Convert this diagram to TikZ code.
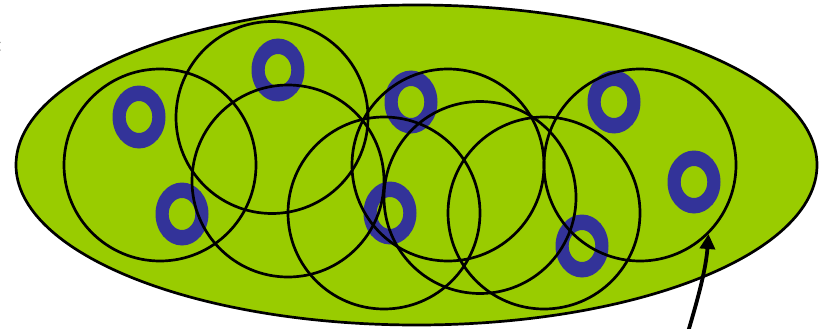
\documentclass[tikz,border=0pt]{standalone}
\usetikzlibrary{arrows.meta}
\definecolor{cellgreen}{HTML}{99CC00}
\definecolor{ringblue}{HTML}{333399}
\tikzset{
  cover/.style={draw=black, line width=2.7pt, circle, minimum size=192pt, inner sep=0pt},
  ring/.style={fill=ringblue, even odd rule},
  pointer/.style={line width=3.8pt, -{Triangle[length=15pt,width=15pt]}}
}
\begin{document}
\begin{tikzpicture}[x=1pt,y=-1pt]
\useasboundingbox (0,0) rectangle (827,329);
% big region
\filldraw[fill=cellgreen, draw=black, line width=2.7pt] (416.5,165) ellipse (400.5pt and 160pt);
% rings
\foreach \p/\q [count=\i] in {139/117, 278/70, 182/214, 411/102, 390/213, 614/102, 582/246, 694/182}{
  \coordinate (r\i) at (\p,\q);
  \fill[ring] (r\i) ellipse (26.5pt and 31.5pt) (r\i) ellipse (13.3pt and 16pt);
}
% covering circles
\node[cover] (A) at (160,165) {};
\node[cover] (B) at (272,117.5) {};
\node[cover] (C) at (288,181) {};
\node[cover] (D) at (384,213) {};
\node[cover] (E) at (448,165) {};
\node[cover] (F) at (480,197.5) {};
\node[cover] (G) at (544,213) {};
\node[cover] (H) at (640,165) {};
% stray colon at the left edge
\node[anchor=east, inner sep=0pt, font=\fontsize{22}{24}\selectfont] (colon) at (2.5,47) {:};
% arrow
\coordinate (src) at (688,332);
\coordinate (tip) at (708.5,234);
\draw[pointer] (src) .. controls (699,295) and (706,268) .. (tip);
\end{tikzpicture}
\end{document}
